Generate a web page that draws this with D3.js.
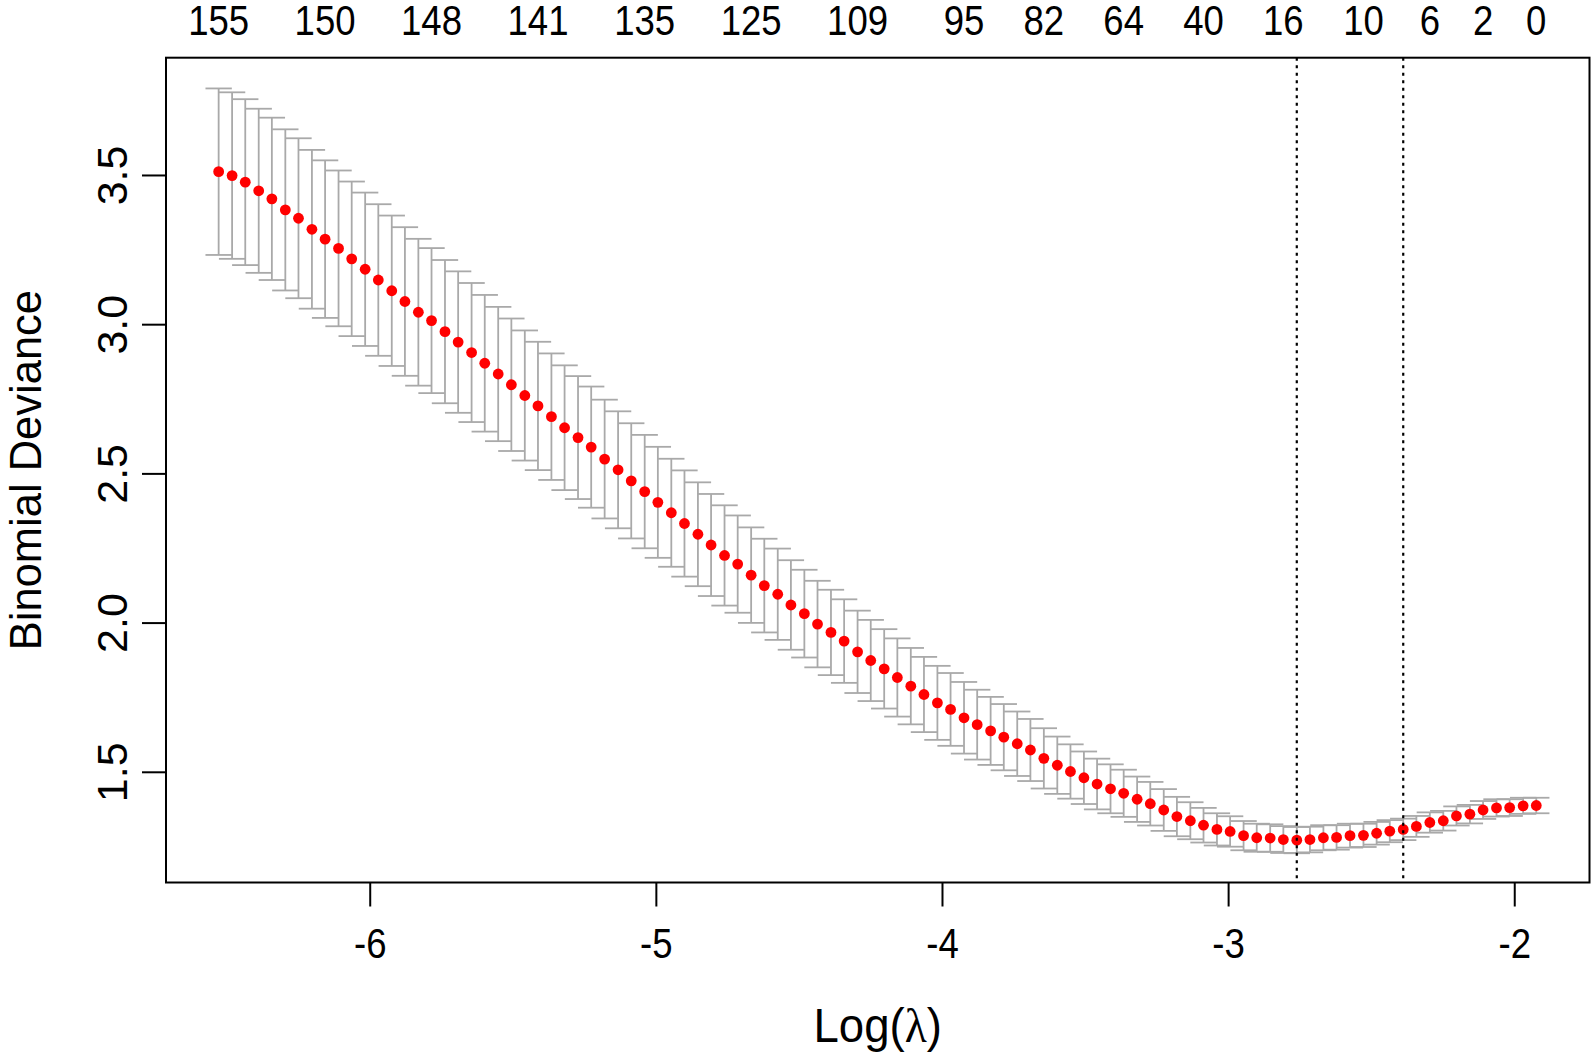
<!DOCTYPE html>
<html>
<head>
<meta charset="utf-8">
<script src="https://cdn.jsdelivr.net/npm/d3@7"></script>
<style>
  html, body { margin: 0; padding: 0; background: #ffffff; }
  svg { display: block; }
  text { font-family: "Liberation Sans", Arial, "DejaVu Sans", sans-serif; fill: #000; }
</style>
</head>
<body>
<svg id="chart" width="1594" height="1058"></svg>
<script>
// ---------------- data ----------------
const logLambda = [
  -6.528, -6.481, -6.435, -6.388, -6.342, -6.295, -6.249, -6.202, -6.156, -6.109,
  -6.063, -6.016, -5.970, -5.923, -5.877, -5.830, -5.784, -5.737, -5.691, -5.644,
  -5.598, -5.551, -5.505, -5.458, -5.412, -5.365, -5.319, -5.272, -5.226, -5.179,
  -5.132, -5.086, -5.039, -4.993, -4.946, -4.900, -4.853, -4.807, -4.760, -4.714,
  -4.667, -4.621, -4.574, -4.528, -4.481, -4.435, -4.388, -4.342, -4.295, -4.249,
  -4.202, -4.156, -4.109, -4.063, -4.016, -3.970, -3.923, -3.877, -3.830, -3.784,
  -3.737, -3.691, -3.644, -3.597, -3.551, -3.504, -3.458, -3.411, -3.365, -3.318,
  -3.272, -3.225, -3.179, -3.132, -3.086, -3.039, -2.993, -2.946, -2.900, -2.853,
  -2.807, -2.760, -2.714, -2.667, -2.621, -2.574, -2.527, -2.481, -2.435, -2.388,
  -2.342, -2.295, -2.248, -2.202, -2.155, -2.109, -2.062, -2.016, -1.969, -1.923
];
const cvMean = [
  3.511, 3.498, 3.476, 3.447, 3.420, 3.383, 3.355, 3.318, 3.285, 3.254,
  3.219, 3.184, 3.148, 3.112, 3.076, 3.040, 3.012, 2.975, 2.940, 2.905,
  2.869, 2.833, 2.797, 2.761, 2.726, 2.690, 2.653, 2.620, 2.588, 2.548,
  2.512, 2.475, 2.439, 2.403, 2.368, 2.332, 2.296, 2.260, 2.225, 2.196,
  2.159, 2.124, 2.095, 2.059, 2.030, 1.995, 1.967, 1.938, 1.902, 1.873,
  1.845, 1.816, 1.787, 1.759, 1.731, 1.709, 1.681, 1.658, 1.637, 1.616,
  1.594, 1.573, 1.545, 1.522, 1.501, 1.480, 1.459, 1.443, 1.428, 1.408,
  1.393, 1.372, 1.350, 1.336, 1.321, 1.307, 1.300, 1.286, 1.279, 1.278,
  1.273, 1.271, 1.273, 1.279, 1.280, 1.286, 1.287, 1.294, 1.301, 1.307,
  1.317, 1.330, 1.336, 1.352, 1.358, 1.372, 1.379, 1.380, 1.386, 1.387
];
const cvSd = [
  0.279, 0.279, 0.278, 0.275, 0.272, 0.270, 0.268, 0.266, 0.264, 0.261,
  0.259, 0.257, 0.254, 0.252, 0.249, 0.246, 0.243, 0.240, 0.237, 0.233,
  0.229, 0.225, 0.222, 0.218, 0.215, 0.212, 0.209, 0.206, 0.203, 0.199,
  0.196, 0.193, 0.190, 0.186, 0.181, 0.178, 0.174, 0.171, 0.168, 0.163,
  0.160, 0.157, 0.153, 0.150, 0.147, 0.145, 0.143, 0.140, 0.138, 0.136,
  0.133, 0.131, 0.128, 0.126, 0.124, 0.122, 0.120, 0.117, 0.114, 0.111,
  0.108, 0.104, 0.101, 0.096, 0.091, 0.088, 0.085, 0.082, 0.079, 0.076,
  0.073, 0.070, 0.066, 0.062, 0.058, 0.054, 0.051, 0.049, 0.047, 0.046,
  0.045, 0.044, 0.043, 0.042, 0.041, 0.040, 0.039, 0.038, 0.037, 0.036,
  0.035, 0.034, 0.033, 0.032, 0.031, 0.030, 0.029, 0.028, 0.027, 0.026
];
// number of non-zero coefficients shown on the top axis (at these lambda indices, 1-based)
const topLabelIndex = [1, 9, 17, 25, 33, 41, 49, 57, 63, 69, 75, 81, 87, 92, 96, 100];
const topLabels = ["155", "150", "148", "141", "135", "125", "109", "95", "82", "64", "40", "16", "10", "6", "2", "0"];
const xTickValues = [-6, -5, -4, -3, -2];
const yTickValues = [1.5, 2.0, 2.5, 3.0, 3.5];
const lambdaMinLog = -2.760;   // lambda.min
const lambda1seLog = -2.388;   // lambda.1se
const xDomain = [-6.712, -1.737];
const yDomain = [1.129, 3.893];

// ---------------- layout ----------------
const plotLeft = 166, plotRight = 1589.5, plotTop = 57.7, plotBottom = 882.5;
const fontSize = 43;
const squeeze = 0.85;

const svg = d3.select("#chart");
const x = d3.scaleLinear().domain(xDomain).range([plotLeft, plotRight]);
const y = d3.scaleLinear().domain(yDomain).range([plotBottom, plotTop]);

const pts = logLambda.map((lx, i) => ({ x: lx, m: cvMean[i], up: cvMean[i] + cvSd[i], lo: cvMean[i] - cvSd[i] }));
const barHalf = 0.01 * (d3.max(logLambda) - d3.min(logLambda));

// error bars
const eb = svg.append("g").attr("stroke", "#A9A9A9").attr("stroke-width", 1.8).attr("fill", "none");
eb.selectAll("line.v").data(pts).join("line").attr("class", "v")
  .attr("x1", d => x(d.x)).attr("x2", d => x(d.x))
  .attr("y1", d => y(d.up)).attr("y2", d => y(d.lo));
eb.selectAll("line.u").data(pts).join("line").attr("class", "u")
  .attr("x1", d => x(d.x - barHalf)).attr("x2", d => x(d.x + barHalf))
  .attr("y1", d => y(d.up)).attr("y2", d => y(d.up));
eb.selectAll("line.l").data(pts).join("line").attr("class", "l")
  .attr("x1", d => x(d.x - barHalf)).attr("x2", d => x(d.x + barHalf))
  .attr("y1", d => y(d.lo)).attr("y2", d => y(d.lo));

// points
svg.append("g").selectAll("circle").data(pts).join("circle")
  .attr("cx", d => x(d.x)).attr("cy", d => y(d.m)).attr("r", 5.4)
  .attr("fill", "#FF0000");

// dotted vertical lines
svg.append("g").selectAll("line").data([lambdaMinLog, lambda1seLog]).join("line")
  .attr("x1", d => x(d)).attr("x2", d => x(d))
  .attr("y1", plotTop).attr("y2", plotBottom)
  .attr("stroke", "#000").attr("stroke-width", 2.2).attr("stroke-dasharray", "3,4.5");

// box
svg.append("rect").attr("x", plotLeft).attr("y", plotTop)
  .attr("width", plotRight - plotLeft).attr("height", plotBottom - plotTop)
  .attr("fill", "none").attr("stroke", "#000").attr("stroke-width", 2);

// bottom axis
const xAxis = svg.append("g").attr("transform", `translate(0,${plotBottom})`)
  .call(d3.axisBottom(x).tickValues(xTickValues).tickSize(24).tickFormat(d => String(d)));
xAxis.select(".domain").remove();
xAxis.selectAll(".tick line").attr("stroke", "#000").attr("stroke-width", 2);
xAxis.selectAll(".tick text")
  .attr("y", 0).attr("dy", 0)
  .attr("transform", `translate(0,${958 - plotBottom}) scale(${squeeze},1)`)
  .attr("font-size", fontSize).attr("font-family", "Liberation Sans, Arial, sans-serif")
  .attr("fill", "#000");

// left axis
const yAxis = svg.append("g").attr("transform", `translate(${plotLeft},0)`)
  .call(d3.axisLeft(y).tickValues(yTickValues).tickSize(24).tickFormat(d3.format(".1f")));
yAxis.select(".domain").remove();
yAxis.selectAll(".tick line").attr("stroke", "#000").attr("stroke-width", 2);
yAxis.selectAll(".tick text")
  .attr("x", 0).attr("dy", 0).attr("y", 127 - plotLeft)
  .attr("transform", "rotate(-90)")
  .attr("text-anchor", "middle")
  .attr("font-size", fontSize).attr("font-family", "Liberation Sans, Arial, sans-serif")
  .attr("fill", "#000");

// top axis labels (no ticks)
svg.append("g").selectAll("text").data(topLabelIndex).join("text")
  .attr("transform", (d) => `translate(${x(logLambda[d - 1])},35) scale(${squeeze},1)`)
  .attr("text-anchor", "middle").attr("font-size", fontSize)
  .text((d, i) => topLabels[i]);

// axis titles
const xl = svg.append("text")
  .attr("transform", `translate(${(plotLeft + plotRight) / 2},1042) scale(0.93,1)`)
  .attr("text-anchor", "middle").attr("font-size", 49);
xl.append("tspan").text("Log(");
xl.append("tspan").attr("font-family", "Liberation Serif, DejaVu Serif, serif").text("λ");
xl.append("tspan").text(")");

svg.append("text")
  .attr("transform", `translate(40.7,${(plotTop + plotBottom) / 2}) rotate(-90)`)
  .attr("text-anchor", "middle").attr("font-size", fontSize + 0.5)
  .text("Binomial Deviance");
</script>
</body>
</html>
